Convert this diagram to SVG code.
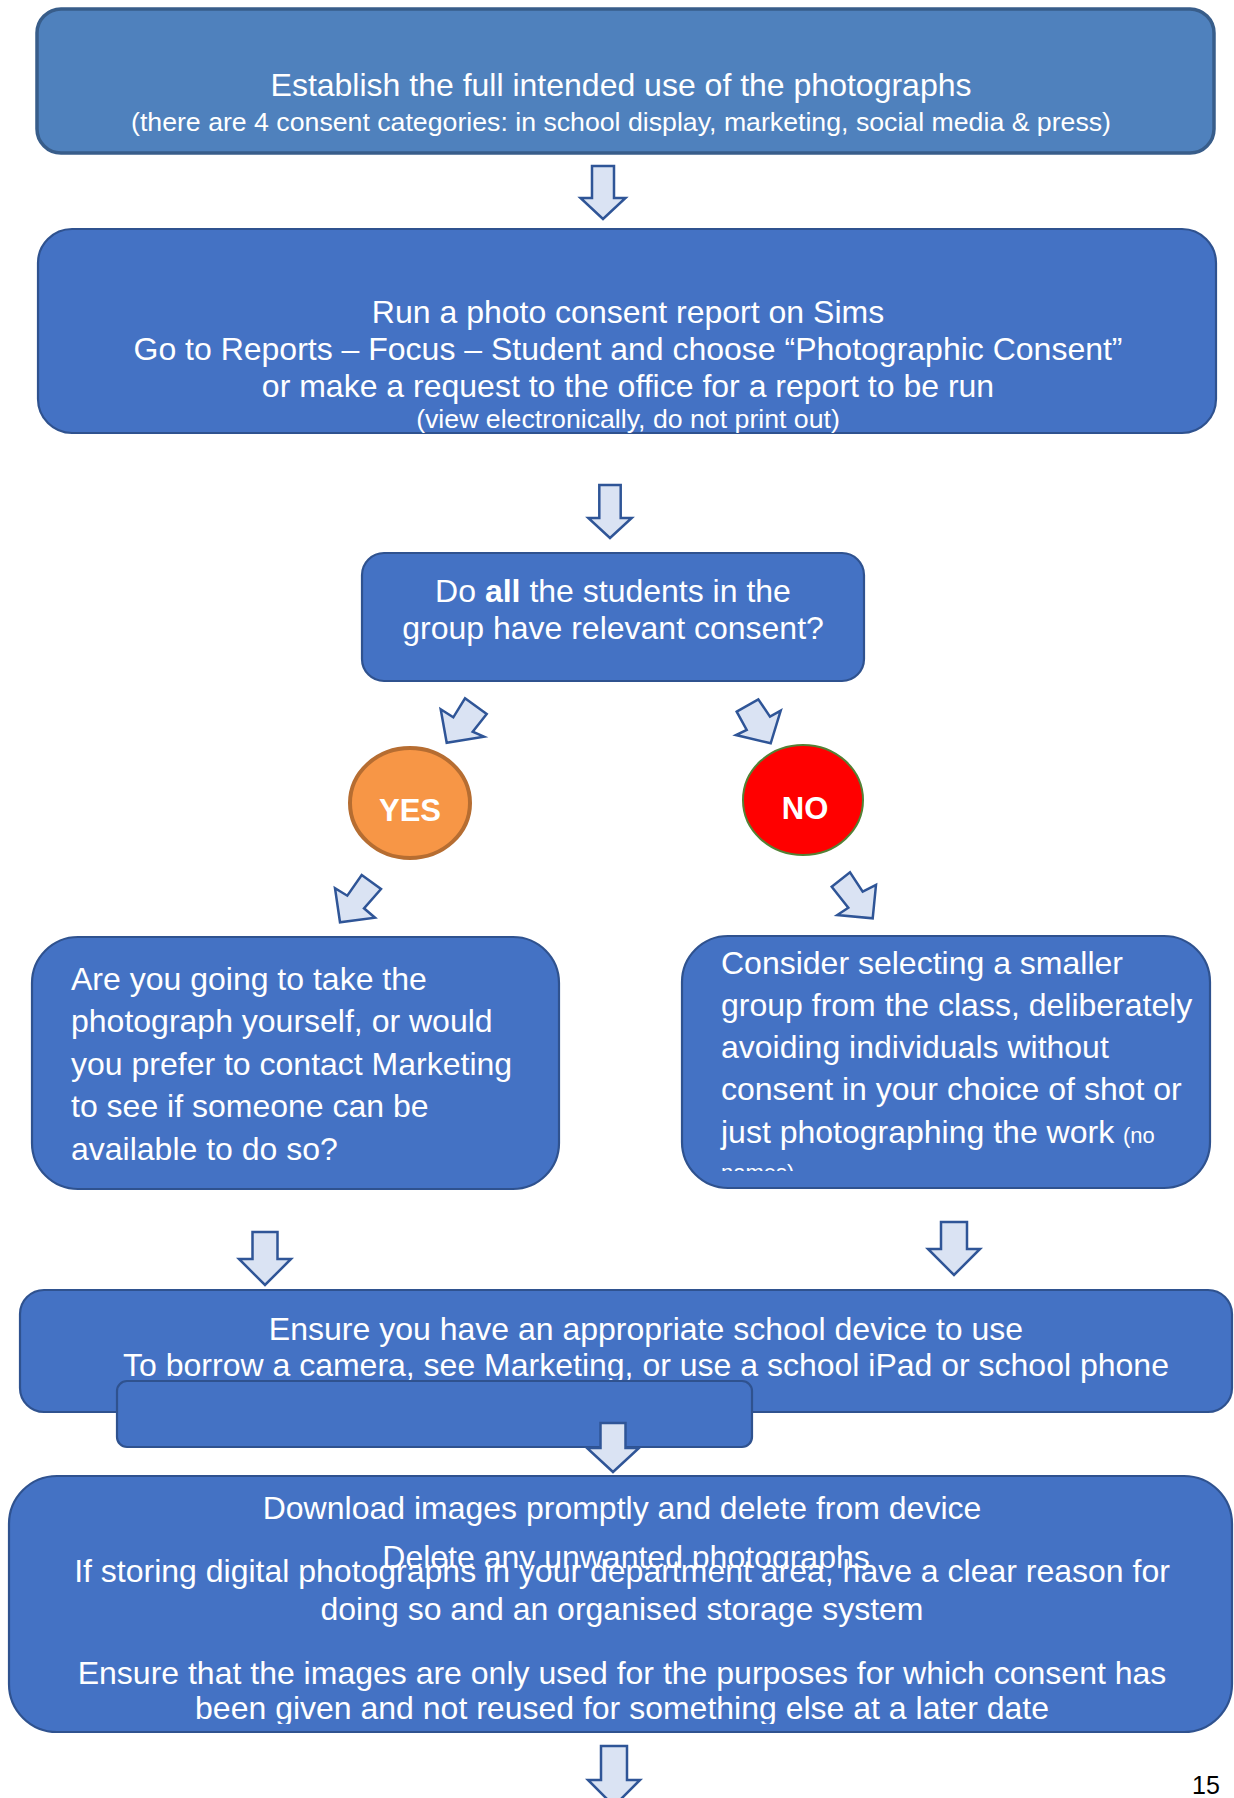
<svg xmlns="http://www.w3.org/2000/svg" width="1234" height="1798" viewBox="0 0 1234 1798">
<style>
text{font-family:"Liberation Sans",Arial,sans-serif;fill:#fff}
.big{font-size:32px}
.sm{font-size:26.7px}
.c{text-anchor:middle}
.box{fill:#4472C4;stroke:#2F528F;stroke-width:2.2}
.arr{fill:#DAE3F3;stroke:#2F5597;stroke-width:2.5;stroke-linejoin:miter}
.b{font-weight:bold}
</style>
<defs>
<clipPath id="clipNo"><rect x="680" y="930" width="540" height="241"/></clipPath>
<clipPath id="clipDel"><rect x="0" y="1500" width="1234" height="69"/></clipPath>
<clipPath id="clipBot"><rect x="0" y="1640" width="1234" height="84"/></clipPath>
</defs>
<rect width="1234" height="1798" fill="#fff"/>
<g id="node-establish">
<rect x="37" y="9" width="1177" height="144" rx="24" fill="#4F81BD" stroke="#385D8A" stroke-width="3.5"/>
<text class="big c" x="621" y="95.5">Establish the full intended use of the photographs</text>
<text class="sm c" x="621" y="131">(there are 4 consent categories: in school display, marketing, social media &amp; press)</text>
</g>
<g id="node-report">
<rect class="box" x="38" y="229" width="1178" height="204" rx="34"/>
<text class="big c" x="628" y="323">Run a photo consent report on Sims</text>
<text class="big c" x="628" y="360">Go to Reports – Focus – Student and choose “Photographic Consent”</text>
<text class="big c" x="628" y="397">or make a request to the office for a report to be run</text>
<text class="sm c" x="628" y="428">(view electronically, do not print out)</text>
</g>
<g id="node-question">
<rect class="box" x="362" y="553" width="502" height="128" rx="22"/>
<text class="big c" x="613" y="602">Do <tspan class="b">all</tspan> the students in the</text>
<text class="big c" x="613" y="639">group have relevant consent?</text>
</g>
<g id="node-yes">
<ellipse cx="410" cy="803" rx="60" ry="55" fill="#F79646" stroke="#B66D31" stroke-width="4"/>
<text class="b c" x="410" y="821" font-size="31">YES</text>
</g>
<g id="node-no">
<ellipse cx="803" cy="800" rx="60" ry="55" fill="#FF0000" stroke="#538135" stroke-width="2"/>
<text class="b c" x="805" y="819" font-size="31">NO</text>
</g>
<g id="node-take-photo">
<rect class="box" x="32" y="937" width="527" height="252" rx="46"/>
<text class="big" x="71" y="990">Are you going to take the</text>
<text class="big" x="71" y="1032">photograph yourself, or would</text>
<text class="big" x="71" y="1075">you prefer to contact Marketing</text>
<text class="big" x="71" y="1117">to see if someone can be</text>
<text class="big" x="71" y="1160">available to do so?</text>
</g>
<g id="node-smaller-group">
<rect class="box" x="682" y="936" width="528" height="252" rx="46"/>
<g clip-path="url(#clipNo)">
<text class="big" x="721" y="974">Consider selecting a smaller</text>
<text class="big" x="721" y="1016">group from the class, deliberately</text>
<text class="big" x="721" y="1058">avoiding individuals without</text>
<text class="big" x="721" y="1100">consent in your choice of shot or</text>
<text class="big" x="721" y="1143">just photographing the work <tspan font-size="22">(no</tspan></text>
<text x="721" y="1180" font-size="22">names)</text>
</g>
</g>
<g id="node-device">
<rect class="box" x="20" y="1290" width="1212" height="122" rx="24"/>
<text class="big c" x="646" y="1339.5">Ensure you have an appropriate school device to use</text>
<text class="big c" x="646" y="1375.5">To borrow a camera, see Marketing, or use a school iPad or school phone</text>
</g>
<g id="node-blank">
<rect class="box" x="117" y="1381" width="635" height="66" rx="10"/>
</g>
<g id="node-download">
<rect class="box" x="9" y="1476" width="1223" height="256" rx="48"/>
<text class="big c" x="622" y="1519">Download images promptly and delete from device</text>
<text class="big c" x="626" y="1568" clip-path="url(#clipDel)">Delete any unwanted photographs</text>
<text class="big c" x="622" y="1582">If storing digital photographs in your department area, have a clear reason for</text>
<text class="big c" x="622" y="1620">doing so and an organised storage system</text>
<text class="big c" x="622" y="1684">Ensure that the images are only used for the purposes for which consent has</text>
<text class="big c" x="622" y="1719" clip-path="url(#clipBot)">been given and not reused for something else at a later date</text>
</g>
<g id="connectors">
<polygon class="arr" points="592,166 614,166 614,198 625.5,198 603,219 580.5,198 592,198"/>
<polygon class="arr" points="599.3,485 620.7,485 620.7,518 631.7,518 610,538 588.3,518 599.3,518"/>
<polygon class="arr" stroke="#335F95" stroke-width="4" points="465,698.3 486.7,714 472.7,731.7 484,736.7 446.7,742.7 440.7,709.3 453.3,717.3"/>
<polygon class="arr" points="736.7,711.7 758.3,699.3 770,716.7 780.7,710.7 770.7,743.3 736,735 746.7,730"/>
<polygon class="arr" points="361.7,875 381,889 364,908.3 375,917.7 340,922.3 335,888.3 347.3,895.7"/>
<polygon class="arr" points="831.7,886.7 850,872.3 862.7,891.7 876,885 872.7,918.3 837.3,915 848.3,907.7"/>
<polygon class="arr" points="252.5,1232 277.5,1232 277.5,1259 291,1259 265,1285 239,1259 252.5,1259"/>
<polygon class="arr" points="941,1222 967,1222 967,1249 980,1249 954,1275 928,1249 941,1249"/>
<polygon class="arr" points="600.5,1423 625.5,1423 625.5,1448 639,1448 613,1472 587,1448 600.5,1448"/>
<polygon class="arr" points="601,1746 627,1746 627,1780 640,1780 614,1806 588,1780 601,1780"/>
</g>
<text x="1192" y="1794" font-size="25" style="fill:#000;font-family:'Liberation Sans',Arial,sans-serif">15</text>
</svg>
